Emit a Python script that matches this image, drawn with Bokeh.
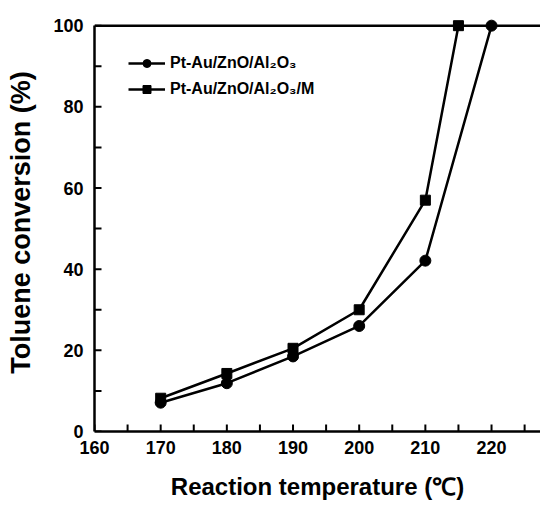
import math
from bokeh.plotting import figure
from bokeh.models import Span, Legend, LegendItem, Range1d
from bokeh.embed import file_html
from bokeh.resources import INLINE

temps_a = [170, 180, 190, 200, 210, 220]
conv_a = [7.1, 11.9, 18.5, 26.0, 42.1, 100.0]
temps_b = [170, 180, 190, 200, 210, 215]
conv_b = [8.2, 14.3, 20.5, 30.0, 57.0, 100.0]
label_a = "Pt-Au/ZnO/Al\u2082O\u2083"
label_b = "Pt-Au/ZnO/Al\u2082O\u2083/M"
x_ticks = [160, 170, 180, 190, 200, 210, 220]
x_minor = [165, 175, 185, 195, 205, 215, 225]
y_ticks = [0, 20, 40, 60, 80, 100]
y_minor = [10, 30, 50, 70, 90]

FONT = "Liberation Sans"
X0, Y0 = 160, 0

p = figure(width=540, height=506, output_backend="svg", toolbar_location=None,
           x_range=Range1d(X0, 227.4), y_range=Range1d(Y0, 103),
           min_border_left=94, min_border_right=0, min_border_top=13, min_border_bottom=75)
p.outline_line_color = None
p.grid.visible = False
p.background_fill_color = "white"
p.border_fill_color = "white"

for ax in (p.xaxis[0], p.yaxis[0]):
    ax.axis_line_width = 2.5
    ax.axis_line_color = "black"
    ax.major_tick_in = 0
    ax.major_tick_out = 0
    ax.minor_tick_in = 0
    ax.minor_tick_out = 0
    ax.major_label_text_font = FONT
    ax.major_label_text_font_style = "bold"
    ax.major_label_text_font_size = "18px"
    ax.major_label_text_color = "black"
    ax.axis_label_text_font = FONT
    ax.axis_label_text_font_style = "bold"
    ax.axis_label_text_color = "black"

p.xaxis.axis_label_text_font_size = "24px"
p.yaxis.axis_label_text_font_size = "27px"
p.xaxis.ticker = x_ticks
p.yaxis.ticker = y_ticks
p.yaxis.bounds = (0, 100)
p.xaxis.major_label_standoff = 9
p.yaxis.major_label_standoff = 11
p.xaxis.axis_label = "Reaction temperature (\u2103)"
p.yaxis.axis_label = "Toluene conversion (%)"
p.xaxis.axis_label_standoff = 16
p.yaxis.axis_label_standoff = 14

# inward tick marks
p.ray(x=x_ticks + x_minor, y=[Y0] * (len(x_ticks) + len(x_minor)), length=7,
      length_units="screen", angle=math.pi / 2, line_color="black", line_width=2)
p.ray(x=[X0] * (len(y_ticks) + len(y_minor)), y=y_ticks + y_minor, length=7,
      length_units="screen", angle=0, line_color="black", line_width=2)

top = Span(location=100, dimension="width", line_color="black", line_width=2.5)
p.add_layout(top)

la = p.line(temps_a, conv_a, line_color="black", line_width=2.5)
ma = p.scatter(temps_a, conv_a, marker="circle", size=11, fill_color="black", line_color="black")
lb = p.line(temps_b, conv_b, line_color="black", line_width=2.5)
mb = p.scatter(temps_b, conv_b, marker="square", size=10, fill_color="black", line_color="black")

legend = Legend(items=[LegendItem(label=label_a, renderers=[la, ma]),
                       LegendItem(label=label_b, renderers=[lb, mb])],
                location=(34, 332), padding=0, margin=0, spacing=6,
                glyph_width=37, glyph_height=20, label_standoff=5,
                border_line_color=None, background_fill_alpha=0,
                label_text_font=FONT, label_text_font_style="bold",
                label_text_font_size="16px", label_text_color="black")
p.add_layout(legend)

open("out.html", "w").write(file_html(p, INLINE))
